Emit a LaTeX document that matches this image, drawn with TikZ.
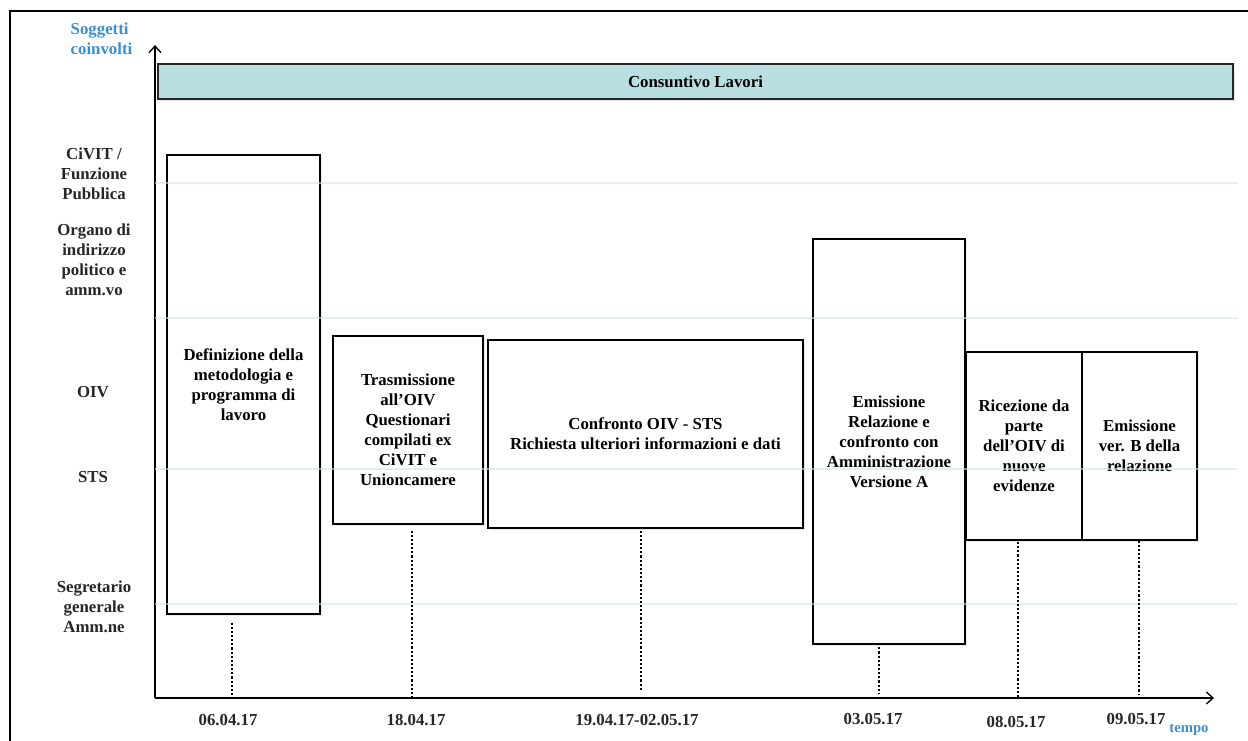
\documentclass[tikz,border=0pt]{standalone}
\usepackage{fontspec}
\setmainfont{Liberation Serif}
\usetikzlibrary{arrows.meta,shadows}
\definecolor{barfill}{HTML}{B9DFE3}
\definecolor{gridc}{HTML}{CFE6E9}
\definecolor{labblue}{HTML}{3A8ED6}
\begin{document}
\begin{tikzpicture}[x=0.75pt,y=-0.75pt,
  font=\fontsize{12.6}{15}\selectfont\bfseries,
  box/.style={draw=black, line width=1pt, fill=white, align=center, inner sep=2pt,
    drop shadow={opacity=0.18, shadow xshift=1.2pt, shadow yshift=-1.2pt}},
  bar/.style={draw=black!85, line width=1.2pt, fill=barfill, align=center,
    drop shadow={opacity=0.18, shadow xshift=1.2pt, shadow yshift=-1.2pt}},
  axisline/.style={line width=1.1pt, -{Straight Barb[length=5pt,width=9pt,line width=1pt]}},
  gridline/.style={gridc, line width=1pt},
  dotline/.style={line width=2.1pt, dash pattern=on 1.6pt off 1.5pt},
  ylab/.style={align=center, text=black!85},
  datelab/.style={text=black!85},
  bluelab/.style={text=labblue, align=left}
]
\useasboundingbox (0,0) rectangle (1248,740);
% outer frame
\draw[line width=1.8pt] (10,745) -- (10,11) -- (1253,11);

% axes
\coordinate (O) at (155,698);
\coordinate (ytip) at (155,45);
\coordinate (xtip) at (1214,698);
\draw[axisline] (O) -- (ytip);
\draw[axisline] (O) -- (xtip);

% bar
\node[bar, minimum width=806.25pt, minimum height=26.25pt] (cons) at (695.5,81.5) {Consuntivo Lavori};

% boxes
\node[box, minimum width=114.75pt, minimum height=344.25pt] (b1) at (243.5,384.5)
  {Definizione della\\metodologia e\\programma di\\lavoro};
\node[box, minimum width=112.5pt, minimum height=141pt] (b2) at (408,430)
  {Trasmissione\\all'OIV\\Questionari\\compilati ex\\CiVIT e\\Unioncamere};
\node[box, minimum width=236.25pt, minimum height=141pt] (b3) at (645.5,434)
  {Confronto OIV - STS\\Richiesta ulteriori informazioni e dati};
\node[box, minimum width=114pt, minimum height=303.75pt] (b4) at (889,441.5)
  {Emissione\\Relazione e\\confronto con\\Amministrazione\\Versione A};
\node[box, minimum width=87pt, minimum height=141pt] (b5) at (1024,446)
  {Ricezione da\\parte\\dell'OIV di\\nuove\\evidenze};
\node[box, minimum width=86.25pt, minimum height=141pt] (b6) at (1139.5,446)
  {Emissione\\ver. B della\\relazione};

% grid lines (drawn faintly over the boxes)
\foreach \yy in {183,318,469,604}
  \draw[gridline, opacity=0.6] (155,\yy) -- (1238,\yy);

% y labels
\node[bluelab, anchor=west] (ysub) at (66,39) {Soggetti\\coinvolti};
\node[ylab] (l1) at (94,174) {CiVIT /\\Funzione\\Pubblica};
\node[ylab] (l2) at (94,260) {Organo di\\indirizzo\\politico e\\amm.vo};
\node[ylab] (l3) at (93,392) {OIV};
\node[ylab] (l4) at (93,477) {STS};
\node[ylab] (l5) at (94,607) {Segretario\\generale\\Amm.ne};

% time coordinates on the axis
\coordinate (t1) at (232,698);
\coordinate (t2) at (412,698);
\coordinate (t3) at (641,690);
\coordinate (t4) at (879,693);
\coordinate (t5) at (1018,698);
\coordinate (t6) at (1139,695);

% dotted connectors
\draw[dotline] ([yshift=-6pt]b1.south -| t1) -- (t1);
\draw[dotline] ([yshift=-4.5pt]b2.south -| t2) -- (t2);
\draw[dotline] ([yshift=-1.5pt]b3.south -| t3) -- (t3);
\draw[dotline] ([yshift=-2pt]b4.south -| t4) -- (t4);
\draw[dotline] ([yshift=-1pt]b5.south -| t5) -- (t5);
\draw[dotline] ([yshift=0pt]b6.south -| t6) -- (t6);

% dates
\node[datelab] (d1) at (228,720) {06.04.17};
\node[datelab] (d2) at (416,720) {18.04.17};
\node[datelab] (d3) at (637,720) {19.04.17-02.05.17};
\node[datelab] (d4) at (873,719) {03.05.17};
\node[datelab] (d5) at (1016,722) {08.05.17};
\node[datelab] (d6) at (1136,719) {09.05.17};
\node[bluelab, font=\fontsize{11}{13}\selectfont\bfseries] (tempo) at (1189,730) {tempo};
\end{tikzpicture}
\end{document}
